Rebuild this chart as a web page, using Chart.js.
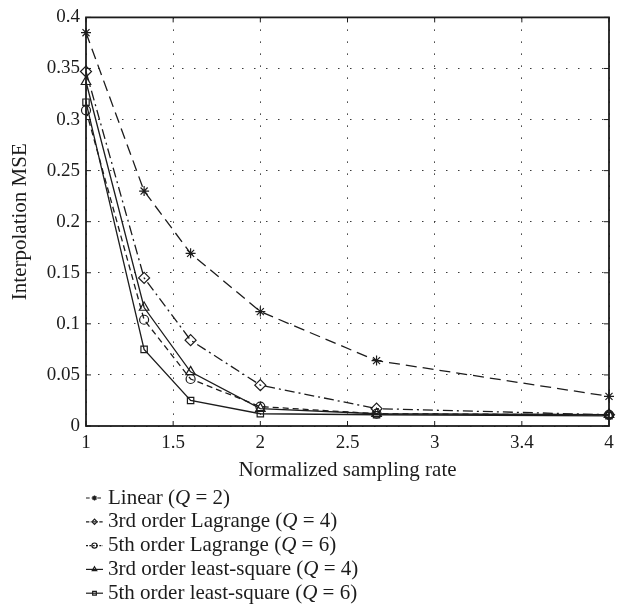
<!DOCTYPE html>
<html>
<head>
<meta charset="utf-8">
<script src="https://cdn.jsdelivr.net/npm/chart.js@4/dist/chart.umd.min.js"></script>
<style>
  html, body { margin: 0; padding: 0; background: #fff; }
</style>
</head>
<body>
<canvas id="mseChart" width="622" height="604"></canvas>
<script>
// normalized sampling rates (x) and MSE per interpolator
const samplingRates = [1, 4 / 3, 1.6, 2, 8 / 3, 4];
const linearQ2 = [0.385, 0.230, 0.169, 0.112, 0.064, 0.029];
const lagrange3Q4 = [0.347, 0.145, 0.084, 0.040, 0.017, 0.011];
const lagrange5Q6 = [0.309, 0.104, 0.046, 0.019, 0.012, 0.011];
const leastSq3Q4 = [0.337, 0.116, 0.053, 0.017, 0.012, 0.011];
const leastSq5Q6 = [0.317, 0.075, 0.025, 0.012, 0.011, 0.010];

const seriesLabels = [
    "Linear (Q = 2)",
    "3rd order Lagrange (Q = 4)",
    "5th order Lagrange (Q = 6)",
    "3rd order least-square (Q = 4)",
    "5th order least-square (Q = 6)"
];

const xTickLabels = ["1", "1.5", "2", "2.5", "3", "3.4", "4"];
const yTickLabels = ["0", "0.05", "0.1", "0.15", "0.2", "0.25", "0.3", "0.35", "0.4"];

const ink = "#1c1c1c";
const serif = "'Liberation Serif', 'DejaVu Serif', serif";

function toPoints(values) {
    return values.map((v, i) => ({ x: samplingRates[i], y: v }));
}

function series(label, values, style, dash, radius) {
    return {
        label: label,
        data: toPoints(values),
        borderColor: ink,
        borderWidth: 1.3,
        borderDash: dash,
        backgroundColor: "transparent",
        pointStyle: style,
        pointRadius: radius,
        pointBorderColor: ink,
        pointBorderWidth: 1.2,
        pointBackgroundColor: "transparent",
        tension: 0,
        clip: false
    };
}

// box around the plot with inward tick marks
const framePlugin = {
    id: "frame",
    beforeDatasetsDraw(chart) {
        const { ctx, chartArea: a, scales } = chart;
        ctx.save();
        ctx.strokeStyle = ink;
        ctx.lineWidth = 1;
        ctx.beginPath();
        scales.x.ticks.forEach(t => {
            const px = scales.x.getPixelForValue(t.value);
            ctx.moveTo(px, a.bottom); ctx.lineTo(px, a.bottom - 5);
            ctx.moveTo(px, a.top); ctx.lineTo(px, a.top + 5);
        });
        scales.y.ticks.forEach(t => {
            const py = scales.y.getPixelForValue(t.value);
            ctx.moveTo(a.left, py); ctx.lineTo(a.left + 5, py);
            ctx.moveTo(a.right, py); ctx.lineTo(a.right - 5, py);
        });
        ctx.stroke();
        ctx.lineWidth = 1.8;
        ctx.strokeRect(a.left, a.top, a.right - a.left, a.bottom - a.top);
        ctx.restore();
    }
};

// legend stacked under the x title, one entry per row
const stackedLegend = {
    id: "stackedLegend",
    afterDraw(chart) {
        const ctx = chart.ctx;
        const x0 = chart.chartArea.left;
        const top = 498;
        const rowGap = 23.8;
        chart.data.datasets.forEach((ds, i) => {
            const y = top + i * rowGap;
            ctx.save();
            ctx.strokeStyle = ink;
            ctx.lineWidth = 1.2;
            ctx.setLineDash((ds.borderDash || []).map(d => d / 3));
            ctx.beginPath();
            ctx.moveTo(x0, y);
            ctx.lineTo(x0 + 17, y);
            ctx.stroke();
            ctx.setLineDash([]);
            Chart.helpers.drawPoint(ctx, {
                pointStyle: ds.pointStyle,
                radius: 2.6,
                rotation: 0,
                borderWidth: 1
            }, x0 + 8.5, y);
            ctx.restore();

            // label, with the Q set in italics
            const parts = ds.label.split("Q");
            let tx = x0 + 22;
            ctx.save();
            ctx.fillStyle = ink;
            ctx.textBaseline = "middle";
            parts.forEach((p, k) => {
                ctx.font = "21px " + serif;
                ctx.fillText(p, tx, y);
                tx += ctx.measureText(p).width;
                if (k < parts.length - 1) {
                    ctx.font = "italic 21px " + serif;
                    ctx.fillText("Q", tx, y);
                    tx += ctx.measureText("Q").width;
                }
            });
            ctx.restore();
        });
    }
};

document.addEventListener("DOMContentLoaded", () => {
    const ctx = document.getElementById("mseChart").getContext("2d");

    Chart.defaults.font.family = serif;
    Chart.defaults.color = ink;

    const data = {
        datasets: [
            series(seriesLabels[0], linearQ2, "star", [11, 6], 5),
            series(seriesLabels[1], lagrange3Q4, "rectRot", [10, 4, 2, 4], 5.5),
            series(seriesLabels[2], lagrange5Q6, "circle", [6, 4], 4.5),
            series(seriesLabels[3], leastSq3Q4, "triangle", [], 5.5),
            series(seriesLabels[4], leastSq5Q6, "rect", [], 4.5)
        ]
    };

    const options = {
        responsive: false,
        animation: false,
        layout: {
            padding: { top: 13, right: 13, bottom: 118, left: 0 }
        },
        plugins: {
            legend: { display: false },
            tooltip: { enabled: false }
        },
        scales: {
            x: {
                type: "linear",
                min: 1,
                max: 4,
                afterFit: scale => { scale.height = 60; },
                ticks: {
                    stepSize: 0.5,
                    padding: 6,
                    font: { size: 19 },
                    color: ink,
                    callback: (v, i) => xTickLabels[i]
                },
                grid: {
                    color: "#3a3a3a",
                    lineWidth: 1,
                    drawTicks: false
                },
                border: { display: false, dash: [1.5, 10.5] },
                title: {
                    display: true,
                    text: "Normalized sampling rate",
                    font: { size: 21 },
                    color: ink,
                    padding: { top: 4, bottom: 3 }
                }
            },
            y: {
                min: 0,
                max: 0.4,
                afterFit: scale => { scale.width = 86; },
                ticks: {
                    stepSize: 0.05,
                    padding: 6,
                    font: { size: 19 },
                    color: ink,
                    callback: (v, i) => yTickLabels[i]
                },
                grid: {
                    color: "#3a3a3a",
                    lineWidth: 1,
                    drawTicks: false
                },
                border: { display: false, dash: [1.5, 10.5] },
                title: {
                    display: true,
                    text: "Interpolation MSE",
                    font: { size: 21 },
                    color: ink,
                    padding: { top: 8, bottom: 4 }
                }
            }
        }
    };

    new Chart(ctx, {
        type: "line",
        data: data,
        options: options,
        plugins: [framePlugin, stackedLegend]
    });
});
</script>
</body>
</html>
